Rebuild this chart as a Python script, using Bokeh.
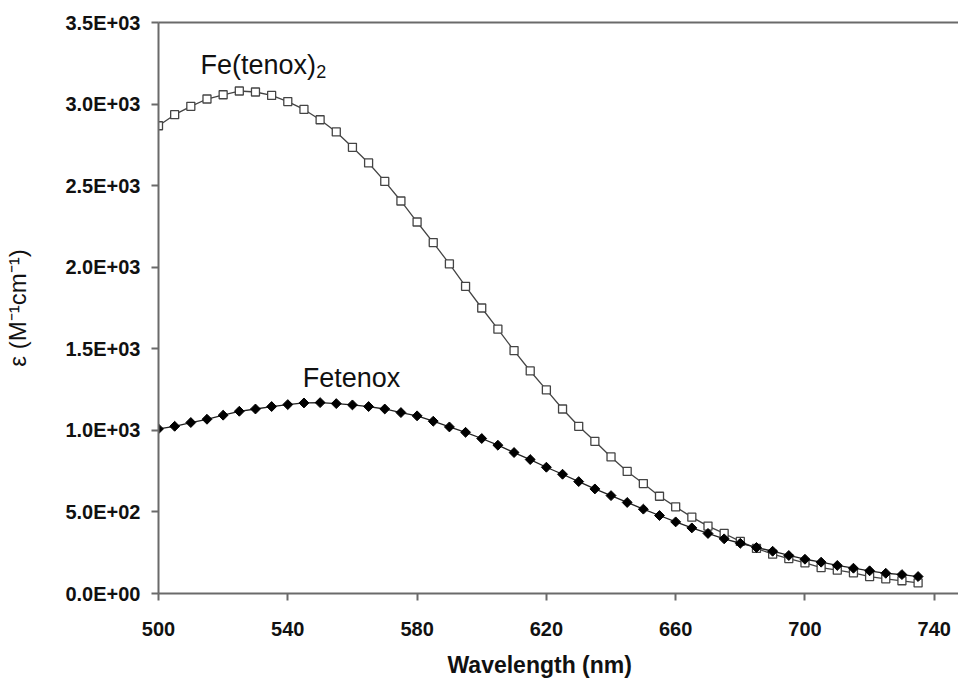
import math
from bokeh.plotting import figure
from bokeh.models import Range1d, FixedTicker, Label, LinearAxis, Title
from bokeh.embed import file_html
from bokeh.resources import INLINE

# ---- data ----
wavelength = [500, 505, 510, 515, 520, 525, 530, 535, 540, 545,
              550, 555, 560, 565, 570, 575, 580, 585, 590, 595,
              600, 605, 610, 615, 620, 625, 630, 635, 640, 645,
              650, 655, 660, 665, 670, 675, 680, 685, 690, 695,
              700, 705, 710, 715, 720, 725, 730, 735]

fe_tenox2 = [2867, 2935, 2986, 3031, 3057, 3080, 3074, 3053, 3015, 2967,
             2904, 2829, 2735, 2639, 2526, 2406, 2277, 2151, 2020, 1883,
             1750, 1620, 1489, 1364, 1248, 1131, 1025, 933, 837, 748,
             674, 596, 531, 468, 413, 368, 319, 276, 241, 214,
             188, 159, 143, 127, 104, 90, 78, 65]

fetenox = [1009, 1025, 1048, 1068, 1093, 1117, 1131, 1146, 1158, 1168,
           1170, 1164, 1156, 1146, 1131, 1109, 1089, 1056, 1021, 988,
           950, 909, 864, 821, 774, 731, 686, 641, 600, 558,
           517, 478, 439, 402, 368, 335, 308, 282, 259, 233,
           210, 192, 172, 155, 139, 124, 116, 104]

x_ticks = [500, 540, 580, 620, 660, 700, 740]
y_ticks = [0, 500, 1000, 1500, 2000, 2500, 3000, 3500]
y_tick_labels = ["0.0E+00", "5.0E+02", "1.0E+03", "1.5E+03",
                 "2.0E+03", "2.5E+03", "3.0E+03", "3.5E+03"]

FONT = "Liberation Sans"
AXIS_COLOR = "#6a6a6a"
TEXT_COLOR = "#111111"

p = figure(width=958, height=689, output_backend="svg", toolbar_location=None,
           x_range=Range1d(500, 747.5), y_range=Range1d(0, 3500),
           min_border_left=158, min_border_right=0, min_border_top=22,
           min_border_bottom=95)
p.outline_line_color = None
p.grid.visible = False
p.background_fill_color = "white"
p.border_fill_color = "white"

# top border line
top = LinearAxis(ticker=FixedTicker(ticks=x_ticks),
                 major_tick_line_color=None, minor_tick_line_color=None,
                 major_label_text_font_size="0px", major_label_standoff=0,
                 major_label_text_color=None,
                 axis_line_color=AXIS_COLOR, axis_line_width=2)
p.add_layout(top, "above")

# lines + markers
p.line(wavelength, fe_tenox2, line_color="#444444", line_width=1.3)
p.scatter(wavelength, fe_tenox2, marker="square", size=8, fill_color="white",
          line_color="#444444", line_width=1.3)
p.line(wavelength, fetenox, line_color="#222222", line_width=1.3)
p.scatter(wavelength, fetenox, marker="square", angle=math.pi / 4, size=7,
          fill_color="black", line_color="black")

# axes
xa = p.below[0]
xa.ticker = FixedTicker(ticks=x_ticks)
xa.major_label_text_font = FONT
xa.major_label_text_font_style = "bold"
xa.major_label_text_font_size = "20px"
xa.major_label_standoff = 21

ya = p.left[0]
ya.ticker = FixedTicker(ticks=y_ticks)
ya.major_label_overrides = {t: l for t, l in zip(y_ticks, y_tick_labels)}
ya.axis_label = "ε (M⁻¹cm⁻¹)"
ya.axis_label_text_font = FONT
ya.axis_label_text_font_style = "normal"
ya.axis_label_text_font_size = "24px"
ya.axis_label_standoff = 31
ya.major_label_text_font = FONT
ya.major_label_text_font_style = "bold"
ya.major_label_text_font_size = "20px"
ya.major_label_standoff = 11

for ax in (xa, ya):
    ax.axis_line_color = AXIS_COLOR
    ax.axis_line_width = 2
    ax.major_tick_line_color = AXIS_COLOR
    ax.major_tick_line_width = 2
    ax.major_tick_in = 0
    ax.major_tick_out = 7
    ax.minor_tick_line_color = None
    ax.major_label_text_color = TEXT_COLOR
    ax.axis_label_text_color = TEXT_COLOR

# x axis title (placed like the reference, slightly left of frame centre)
xtitle = Title(text="Wavelength (nm)", text_font=FONT, text_font_style="bold",
               text_font_size="23px", align="left", offset=289, standoff=23,
               text_color=TEXT_COLOR)
p.add_layout(xtitle, "below")

# annotations
p.add_layout(Label(x=513, y=3240, text="Fe(tenox)", text_font=FONT,
                   text_font_size="27px", text_baseline="alphabetic",
                   text_color=TEXT_COLOR))
p.add_layout(Label(x=548.8, y=3202, text="2", text_font=FONT,
                   text_font_size="18px", text_baseline="alphabetic",
                   text_color=TEXT_COLOR))
p.add_layout(Label(x=544.6, y=1322, text="Fetenox", text_font=FONT,
                   text_font_size="27px", text_baseline="alphabetic",
                   text_color=TEXT_COLOR))

open("out.html", "w").write(file_html(p, INLINE))
